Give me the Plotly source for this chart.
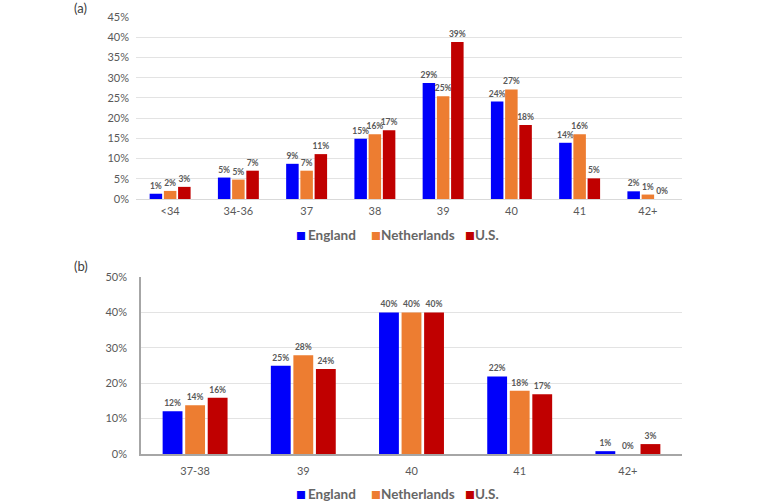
import plotly.graph_objects as go

cats_a = ["<34", "34-36", "37", "38", "39", "40", "41", "42+"]
eng_a = [1.3, 5.3, 8.7, 14.9, 28.7, 24.1, 13.9, 1.9]
ned_a = [2.0, 4.8, 7.0, 16.0, 25.4, 27.1, 16.0, 1.1]
us_a = [3.0, 7.0, 11.1, 17.0, 38.8, 18.3, 5.1, 0.0]

cats_b = ["37-38", "39", "40", "41", "42+"]
eng_b = [12.1, 24.9, 40.0, 21.9, 0.8]
ned_b = [13.8, 27.9, 40.0, 17.9, 0.0]
us_b = [15.9, 24.0, 40.0, 16.9, 2.8]

series_names = ["England", "Netherlands", "U.S."]
colors = ["#0000FA", "#ED7D31", "#C00000"]

FONT = "Lato, 'Liberation Sans', sans-serif"
GRAY = "#595959"
W, H = 758, 502


def px(x):
    return x / W


def py(y):
    return (H - y) / H


fig = go.Figure()
for name, vals, col in zip(series_names, [eng_a, ned_a, us_a], colors):
    fig.add_trace(go.Bar(x=cats_a, y=vals, name=name, marker_color=col,
                         texttemplate="%{y:.0f}%", textposition="outside",
                         constraintext="none",
                         textfont=dict(size=8.5, color=GRAY, family=FONT, weight="bold"),
                         cliponaxis=False, xaxis="x", yaxis="y", showlegend=False))
for name, vals, col in zip(series_names, [eng_b, ned_b, us_b], colors):
    fig.add_trace(go.Bar(x=cats_b, y=vals, name=name, marker_color=col,
                         texttemplate="%{y:.0f}%", textposition="outside",
                         constraintext="none",
                         textfont=dict(size=8.5, color=GRAY, family=FONT, weight="bold"),
                         cliponaxis=False, xaxis="x2", yaxis="y2", showlegend=False))

axis_font = dict(size=11, color=GRAY, family=FONT)

# legend drawn as text items (square glyph + name) below each panel
legend_sq_x = [294, 369, 463]
legend_txt_x = [306, 379, 473]
legend_y = [235, 494]
annotations = []
for ly in legend_y:
    for name, col, sx, tx in zip(series_names, colors, legend_sq_x, legend_txt_x):
        annotations.append(dict(text="■", x=px(sx), y=py(ly), xref="paper", yref="paper",
                                xanchor="left", yanchor="middle", showarrow=False,
                                font=dict(size=10.5, color=col, family="DejaVu Sans")))
        annotations.append(dict(text=name, x=px(tx), y=py(ly), xref="paper", yref="paper",
                                xanchor="left", yanchor="middle", showarrow=False,
                                font=dict(size=13.5, color="#666666", family=FONT, weight="bold")))
for lab, ly in [("(a)", 8), ("(b)", 266)]:
    annotations.append(dict(text=lab, x=px(72), y=py(ly), xref="paper", yref="paper",
                            xanchor="left", yanchor="middle", showarrow=False,
                            font=dict(size=13, color="#404040", family=FONT)))

fig.update_layout(
    template="none",
    width=W, height=H,
    margin=dict(l=0, r=0, t=0, b=0),
    paper_bgcolor="white", plot_bgcolor="white",
    font=dict(family=FONT, color=GRAY),
    barmode="group", bargap=0.375, bargroupgap=0.12,
    showlegend=False,
    xaxis=dict(type="category", domain=[px(136), px(682)], anchor="y", tickfont=axis_font,
               showline=False, ticks="", showgrid=False, zeroline=False,
               automargin=False, ticklabelstandoff=4),
    yaxis=dict(domain=[py(199), py(17)], anchor="x", range=[0, 45],
               dtick=5, ticksuffix="%", tickfont=axis_font, showgrid=True,
               gridcolor="#E3E3E3", gridwidth=1, zeroline=True, zerolinecolor="#D9D9D9",
               zerolinewidth=1, showline=False, ticks="", automargin=False,
               ticklabelstandoff=6),
    xaxis2=dict(type="category", domain=[px(141), px(682)], anchor="y2", tickfont=axis_font,
                showline=True, linecolor="#A6A6A6", linewidth=1.5, ticks="",
                showgrid=False, zeroline=False, automargin=False, ticklabelstandoff=6),
    yaxis2=dict(domain=[py(454), py(277)], anchor="x2", range=[0, 50],
                dtick=10, ticksuffix="%", tickfont=axis_font, showgrid=True,
                gridcolor="#E3E3E3", gridwidth=1, zeroline=False, showline=True,
                linecolor="#A6A6A6", linewidth=1.5, ticks="", automargin=False,
                ticklabelstandoff=10),
    annotations=annotations,
)

fig.write_html("out.html", config={"displayModeBar": False},
               post_script="document.body.style.margin='0';document.body.style.overflow='hidden';")
